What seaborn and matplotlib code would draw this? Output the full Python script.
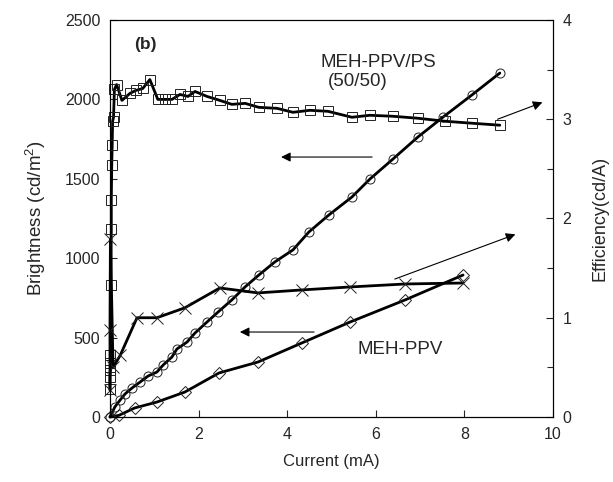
import matplotlib
matplotlib.use("Agg")
import matplotlib.pyplot as plt
import seaborn as sns

# MEH-PPV/PS (50/50): brightness (circles, left axis) and efficiency (squares, right axis)
blend_b_current = [0.00, 0.11, 0.23, 0.34, 0.50, 0.68, 0.86, 1.06, 1.20, 1.40, 1.51, 1.74,
                   1.92, 2.19, 2.44, 2.75, 3.05, 3.36, 3.72, 4.13, 4.49, 4.94, 5.46, 5.87,
                   6.39, 6.95, 7.52, 8.17, 8.80]
blend_brightness = [0, 63, 107, 145, 183, 220, 258, 283, 327, 378, 428, 472,
                    529, 598, 661, 737, 819, 894, 976, 1052, 1165, 1272, 1385, 1499,
                    1625, 1763, 1889, 2028, 2166]

blend_e_current = [0.00, 0.00, 0.01, 0.01, 0.01, 0.02, 0.03, 0.03, 0.04, 0.05, 0.06, 0.08,
                   0.10, 0.15, 0.27, 0.45, 0.58, 0.74, 0.90, 1.08, 1.24, 1.40, 1.58, 1.76,
                   1.92, 2.19, 2.48, 2.75, 3.05, 3.36, 3.77, 4.13, 4.51, 4.92, 5.46, 5.87,
                   6.39, 6.95, 7.56, 8.17, 8.80]
blend_efficiency = [0.28, 0.40, 0.47, 0.54, 0.62, 1.33, 1.89, 2.19, 2.54, 2.74, 2.98, 3.02,
                    3.30, 3.35, 3.19, 3.26, 3.29, 3.31, 3.40, 3.20, 3.20, 3.20, 3.25, 3.23,
                    3.28, 3.23, 3.19, 3.15, 3.16, 3.12, 3.11, 3.07, 3.09, 3.08, 3.02, 3.04,
                    3.03, 3.01, 2.98, 2.96, 2.94]

# MEH-PPV: brightness (diamonds, left axis) and efficiency (crosses, right axis)
pure_b_current = [0.00, 0.20, 0.56, 1.06, 1.69, 2.46, 3.34, 4.33, 5.42, 6.66, 7.97]
pure_brightness = [0, 10, 57, 94, 157, 277, 346, 466, 598, 737, 894]

pure_e_current = [0.00, 0.00, 0.01, 0.07, 0.23, 0.61, 1.06, 1.69, 2.48, 3.34, 4.33, 5.42,
                  6.66, 7.97]
pure_efficiency = [0.27, 0.88, 1.79, 0.50, 0.62, 1.00, 1.00, 1.10, 1.30, 1.25, 1.28, 1.31,
                   1.34, 1.35]

sns.set_style("ticks")
plt.rcParams["font.family"] = ["Liberation Sans", "DejaVu Sans"]
plt.rcParams["mathtext.fontset"] = "custom"
plt.rcParams["mathtext.rm"] = "Liberation Sans"

fig = plt.figure(figsize=(6.13, 4.82), dpi=100)
ax = fig.add_axes([0.1794, 0.1349, 0.7227, 0.8236])
ax2 = ax.twinx()

line_kw = dict(color="black", linewidth=2.0, markerfacecolor="none", markeredgecolor="#222222",
               markeredgewidth=0.7, markersize=6.5, estimator=None, sort=False, clip_on=False)

sns.lineplot(x=blend_b_current, y=blend_brightness, marker="o", ax=ax, **line_kw)
sns.lineplot(x=pure_b_current, y=pure_brightness, marker="D", ax=ax,
             **{**line_kw, "markersize": 6})
sns.lineplot(x=blend_e_current, y=blend_efficiency, marker="s", ax=ax2, **line_kw)
sns.lineplot(x=pure_e_current, y=pure_efficiency, marker="x", ax=ax2,
             **{**line_kw, "markersize": 8})

ax.set_xlim(0, 10)
ax.set_ylim(0, 2500)
ax2.set_ylim(0, 4)
ax.set_xticks([0, 2, 4, 6, 8, 10])
ax.set_yticks([0, 500, 1000, 1500, 2000, 2500])
ax2.set_yticks([0, 1, 2, 3, 4])
ax2.set_yticks([0.5, 1.5, 2.5, 3.5], minor=True)

for a in (ax, ax2):
    a.tick_params(direction="in", length=5, width=0.8, labelsize=11.5, pad=7)
    a.tick_params(which="minor", direction="in", length=4, width=0.8)
    for s in a.spines.values():
        s.set_linewidth(0.8)
        s.set_color("black")

ax.set_xlabel("Current (mA)", fontsize=12, labelpad=9)
ax.set_ylabel("Brightness (cd/m$^2$)", fontsize=13.5, labelpad=12)
ax2.set_ylabel("Efficiency(cd/A)", fontsize=13, labelpad=14)

arrow = dict(arrowstyle="-|>", color="black", lw=0.8, mutation_scale=14)
# brightness arrows point left, efficiency arrows point right
ax.annotate("", xy=(3.80, 1637), xytext=(5.98, 1637), arrowprops=arrow)
ax.annotate("", xy=(2.87, 535), xytext=(4.67, 535), arrowprops=arrow)
ax2.annotate("", xy=(9.82, 3.18), xytext=(8.69, 2.99), arrowprops=arrow)
ax2.annotate("", xy=(9.21, 1.85), xytext=(6.37, 1.38), arrowprops=arrow)

ax2.text(0.79, 2343 * 4 / 2500, "(b)", fontsize=12.5, fontweight="bold", ha="center", va="center")
ax2.text(6.05, 2235 * 4 / 2500, "MEH-PPV/PS", fontsize=13.5, ha="center", va="center")
ax2.text(5.6, 2110 * 4 / 2500, "(50/50)", fontsize=13.5, ha="center", va="center")
ax2.text(6.55, 422 * 4 / 2500, "MEH-PPV", fontsize=13.5, ha="center", va="center")

fig.savefig("out.png", dpi=100)
